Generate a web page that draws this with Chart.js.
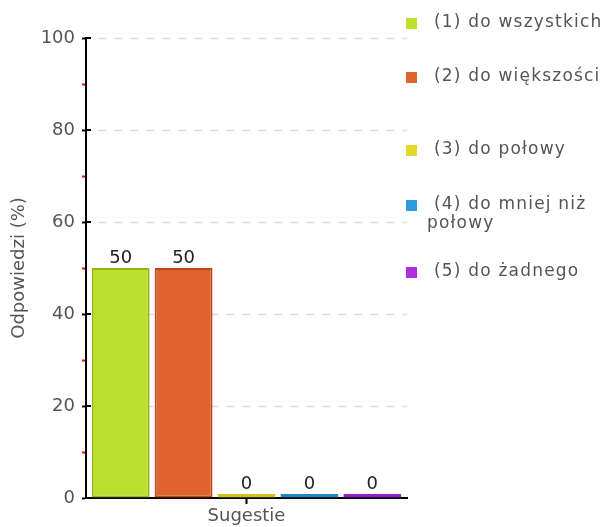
<!DOCTYPE html>
<html>
<head>
<meta charset="utf-8">
<script src="https://cdn.jsdelivr.net/npm/chart.js@4.4.1/dist/chart.umd.min.js"></script>
<style>
  html, body { margin: 0; padding: 0; background: #fff; }
  #wrap { width: 611px; height: 527px; position: relative; }
</style>
</head>
<body>
<div id="wrap"><canvas id="c" width="611" height="527"></canvas></div>
<script>
const categories = ['Sugestie'];
const seriesNames = ['(1) do wszystkich', '(2) do większości', '(3) do połowy', '(4) do mniej niż połowy', '(5) do żadnego'];
const seriesValues = [[50], [50], [0], [0], [0]];
const yTicks = [0, 20, 40, 60, 80, 100];
const fillColors = ['#bce02e', '#e0632e', '#e2d82e', '#2e9ae0', '#b02ee0'];
const borderColors = ['#97b51a', '#bd4818', '#cfc21a', '#1f86cc', '#981fcc'];
const legendY = [23, 77, 150, 205, 272];

const FONT = 'DejaVu Sans, Verdana, sans-serif';

const datasets = seriesNames.map((name, i) => ({
  label: name,
  data: seriesValues[i],
  backgroundColor: fillColors[i],
  borderColor: borderColors[i],
  borderWidth: 2,
  borderSkipped: false,
  minBarLength: 4
}));

const extras = {
  id: 'extras',
  beforeDatasetsDraw(chart) {
    const ctx = chart.ctx, y = chart.scales.y, a = chart.chartArea;
    ctx.save();
    ctx.strokeStyle = '#dddddd';
    ctx.lineWidth = 1.5;
    ctx.setLineDash([8, 8]);
    yTicks.forEach(v => {
      if (v === 0) return;
      const py = Math.round(y.getPixelForValue(v)) + 0.5;
      ctx.beginPath();
      ctx.moveTo(a.left + 12, py);
      ctx.lineTo(a.right, py);
      ctx.stroke();
    });
    ctx.setLineDash([]);
    ctx.strokeStyle = '#000';
    ctx.lineWidth = 2;
    yTicks.forEach(v => {
      const py = Math.round(y.getPixelForValue(v));
      ctx.beginPath();
      ctx.moveTo(a.left, py);
      ctx.lineTo(a.left + 5, py);
      ctx.stroke();
    });
    ctx.restore();
  },
  afterDatasetsDraw(chart) {
    const ctx = chart.ctx;
    ctx.save();
    ctx.font = '18px ' + FONT;
    ctx.fillStyle = '#222';
    ctx.textAlign = 'center';
    ctx.textBaseline = 'middle';
    chart.data.datasets.forEach((ds, i) => {
      const meta = chart.getDatasetMeta(i);
      meta.data.forEach((bar, j) => {
        ctx.fillText(String(ds.data[j]), bar.x, bar.y - 10);
      });
    });
    ctx.restore();
  },
  afterDraw(chart) {
    const ctx = chart.ctx;
    ctx.save();
    ctx.font = '17px ' + FONT;
    try { ctx.letterSpacing = '1.2px'; } catch (e) {}
    ctx.textBaseline = 'middle';
    ctx.textAlign = 'left';
    const sqX = 406, txtX = 434, maxW = 611 - txtX;
    chart.data.datasets.forEach((ds, i) => {
      const cy = legendY[i];
      ctx.fillStyle = ds.backgroundColor;
      ctx.fillRect(sqX, cy - 5, 11, 11);
      ctx.fillStyle = '#555';
      const words = ds.label.split(' ');
      const lines = [];
      let cur = '';
      words.forEach(w => {
        const t = cur ? cur + ' ' + w : w;
        if (ctx.measureText(t).width > maxW && cur) { lines.push(cur); cur = w; }
        else cur = t;
      });
      lines.push(cur);
      lines.forEach((ln, k) => {
        ctx.fillText(ln, k === 0 ? txtX : txtX - 7, cy + k * 19);
      });
    });
    ctx.restore();
  }
};

new Chart(document.getElementById('c'), {
  type: 'bar',
  data: { labels: categories, datasets },
  plugins: [extras],
  options: {
    responsive: false,
    animation: false,
    devicePixelRatio: 1,
    layout: { padding: { top: 38, right: 204, left: 0, bottom: 0 } },
    datasets: { bar: { categoryPercentage: 0.98, barPercentage: 0.92 } },
    plugins: {
      legend: { display: false },
      tooltip: { enabled: false }
    },
    scales: {
      x: {
        z: 1,
        offset: true,
        grid: { display: true, offset: false, drawOnChartArea: false, drawTicks: true, tickLength: 6, tickColor: '#000', tickWidth: 2 },
        border: { display: true, color: '#000', width: 2 },
        ticks: { color: '#555', font: { family: FONT, size: 18 }, padding: 2 },
        afterFit(scale) { scale.height = 29; }
      },
      y: {
        min: 0,
        max: 100,
        ticks: {
          stepSize: 10,
          color: '#555',
          padding: 7,
          font: { family: FONT, size: 18 },
          callback: (v) => yTicks.includes(v) ? String(v) : ''
        },
        grid: {
          drawOnChartArea: false,
          drawTicks: true,
          tickLength: 4,
          tickWidth: 2,
          tickColor: (c) => (c.tick && yTicks.includes(c.tick.value)) ? '#000' : '#ff0000'
        },
        border: { display: true, color: '#000', width: 2 },
        title: {
          display: true,
          text: 'Odpowiedzi (%)',
          color: '#555',
          font: { family: FONT, size: 18 },
          padding: { top: 9, bottom: 0 }
        },
        afterFit(scale) { scale.width = 86; }
      }
    }
  }
});
</script>
</body>
</html>
